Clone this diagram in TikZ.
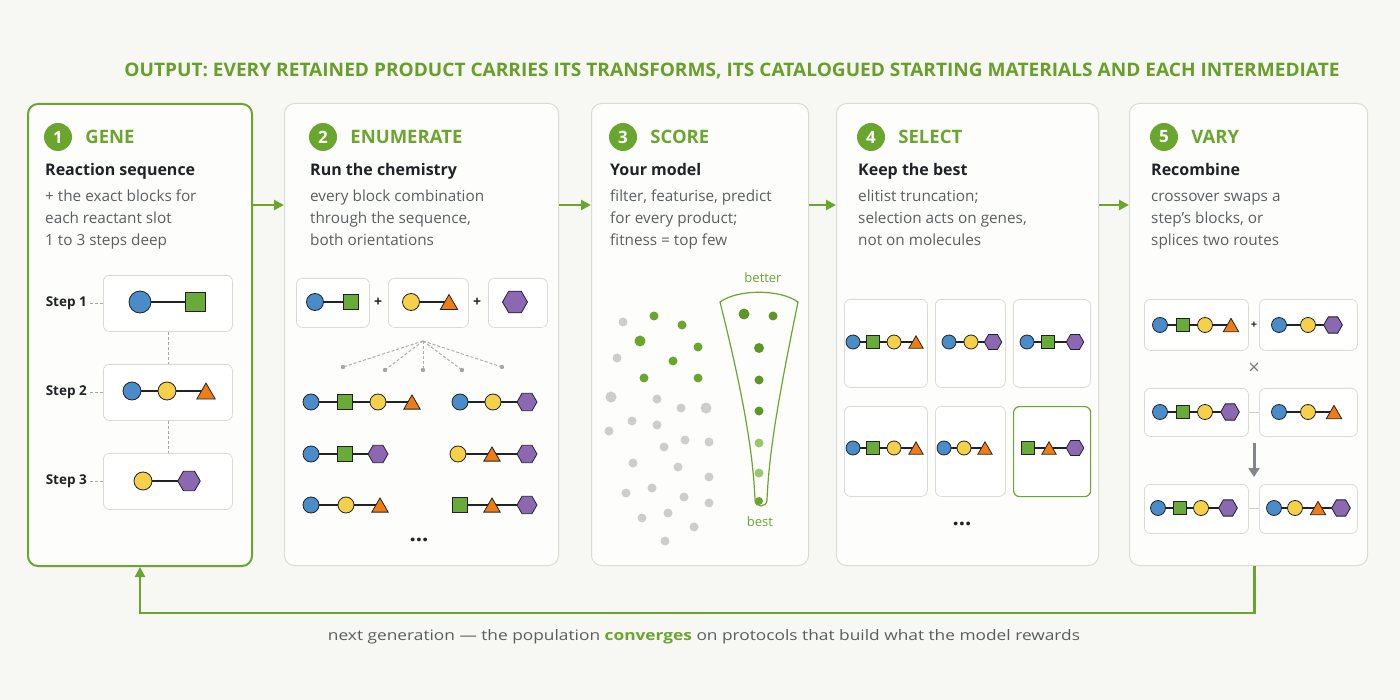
\documentclass[tikz,border=0pt]{standalone}
\usepackage{fontspec}
\usepackage{graphicx}
\setmainfont{Open Sans}
\usetikzlibrary{arrows.meta,positioning,shapes.geometric}
\definecolor{gaBg}{HTML}{F7F8F3}
\definecolor{gaCard}{HTML}{FDFDFB}
\definecolor{gaGreen}{HTML}{6AA62E}
\definecolor{gaTitle}{HTML}{689E2A}
\definecolor{gaInk}{HTML}{1F2326}
\definecolor{gaGrey}{HTML}{5A5E62}
\definecolor{gaEdge}{HTML}{D9DCD2}
\definecolor{gaBlue}{HTML}{4A8CC9}
\definecolor{gaLeaf}{HTML}{6AAA3A}
\definecolor{gaSun}{HTML}{F7D04A}
\definecolor{gaOrange}{HTML}{F07D14}
\definecolor{gaPlum}{HTML}{8C68B3}
\definecolor{gaDot}{HTML}{CDCDCB}
\definecolor{gaPale}{HTML}{9DC56F}

\tikzset{
  panel/.style={draw=gaEdge,fill=gaCard,line width=1pt,rounded corners=10pt,anchor=north west,inner sep=0pt},
  card/.style={draw=gaEdge,fill=white,line width=0.8pt,rounded corners=6pt,anchor=north west,inner sep=0pt},
  badge/.style={circle,fill=gaGreen,text=white,inner sep=0pt,minimum size=28pt,font=\bfseries\fontsize{17}{17}\selectfont},
  stephead/.style={text=gaGreen,inner sep=0pt,font=\bfseries\fontsize{18.5}{18.5}\selectfont},
  lead/.style={anchor=base west,inner sep=0pt,text=gaInk,font=\bfseries\fontsize{16}{16}\selectfont},
  note/.style={anchor=base west,inner sep=0pt,text=gaGrey,font=\fontsize{15.3}{15.3}\selectfont},
  steptag/.style={text=gaInk,inner sep=3pt,font=\bfseries\fontsize{13.5}{13.5}\selectfont},
  tag/.style={text=gaGreen,inner sep=0pt,font=\fontsize{13}{13}\selectfont},
  sign/.style={text=gaInk,inner sep=0pt,font=\bfseries\fontsize{14}{14}\selectfont},
  more/.style={text=gaInk,inner sep=0pt,font=\bfseries\fontsize{22}{22}\selectfont},
  leader/.style={gaGrey!55,densely dashed,line width=0.8pt},
  fanline/.style={gaGrey!50,densely dashed,line width=1pt},
  flow/.style={gaGreen,line width=2.5pt,-{Triangle[length=10pt,width=10pt]}},
  swap/.style={gaGrey!75,line width=3pt,-{Triangle[length=9pt,width=11pt]}},
  bond/.style={gaInk,line width=1.4pt},
  atom/.style={draw=gaInk,line width=0.8pt,inner sep=0pt},
  blueball/.style={atom,circle,fill=gaBlue,minimum size=\msz},
  sunball/.style={atom,circle,fill=gaSun,minimum size=\msz},
  leafblock/.style={atom,rectangle,fill=gaLeaf,minimum size=0.9*\msz},
  orangetri/.style={atom,regular polygon,regular polygon sides=3,fill=gaOrange,minimum size=1.18*\msz,yshift=-0.15*\msz},
  plumhex/.style={atom,regular polygon,regular polygon sides=6,fill=gaPlum,minimum size=1.25*\msz},
}

% one building-block chain: name, y, size, list of x/kind
\newcommand{\mol}[4]{%
  \def\msz{#3}%
  \foreach \mx/\mk [count=\mi, remember=\mi as \mj (initially 0)] in {#4}{
    \coordinate (#1c\mi) at (\mx,#2);
    \ifnum\mj>0 \draw[bond] (#1c\mj) -- (#1c\mi); \fi
  }
  \foreach \mx/\mk [count=\mi] in {#4}{
    \node[\mk] (#1\mi) at (#1c\mi) {};
  }
}

\begin{document}
\begin{tikzpicture}[x=1pt,y=-1pt]
  \fill[gaBg] (0,0) rectangle (1400,700);
  \useasboundingbox (0,0) rectangle (1400,700);

  \node[text=gaTitle,inner sep=0pt] (banner) at (732,71)
    {\resizebox{1215pt}{13.5pt}{\bfseries OUTPUT: EVERY RETAINED PRODUCT CARRIES ITS TRANSFORMS, ITS CATALOGUED STARTING MATERIALS AND EACH INTERMEDIATE}};

  % the five stages
  \node[panel,draw=gaGreen,line width=2pt,minimum width=224pt,minimum height=462pt] (p1) at (27,103) {};
  \node[panel,minimum width=274pt,minimum height=462pt] (p2) at (284,103) {};
  \node[panel,minimum width=217pt,minimum height=462pt] (p3) at (591,103) {};
  \node[panel,minimum width=262pt,minimum height=462pt] (p4) at (836,103) {};
  \node[panel,minimum width=238pt,minimum height=462pt] (p5) at (1129,103) {};

  \coordinate (lane) at (0,205);
  \foreach \a/\b in {1/2,2/3,3/4,4/5}
    \draw[flow] (p\a.east |- lane) -- (p\b.west |- lane);
  \draw[flow] ([xshift=6pt]p5.south) -- ++(0,47) -| (p1.south);

  \foreach \k/\tx/\head/\lead/\na/\nb/\nc in {
    1/45/GENE/{Reaction sequence}/{+ the exact blocks for}/{each reactant slot}/{1 to 3 steps deep},
    2/310/ENUMERATE/{Run the chemistry}/{every block combination}/{through the sequence,}/{both orientations},
    3/610/SCORE/{Your model}/{filter, featurise, predict}/{for every product;}/{fitness = top few},
    4/858/SELECT/{Keep the best}/{elitist truncation;}/{selection acts on genes,}/{not on molecules},
    5/1151/VARY/{Recombine}/{crossover swaps a}/{step’s blocks, or}/{splices two routes}}
  {
    \node[badge] (b\k) at (\tx+13,137) {\k};
    \node[stephead,right=13pt of b\k] (h\k) {\head};
    \node[lead] (l\k) at (\tx,176) {\lead};
    \node[note] (n\k-1) at (\tx,202) {\na};
    \node[note] (n\k-2) at (\tx,224) {\nb};
    \node[note] (n\k-3) at (\tx,246) {\nc};
  }

  % 1 gene
  \node[card,minimum width=129pt,minimum height=56pt] (s1) at (103,275) {};
  \node[card,minimum width=129pt,minimum height=56pt] (s2) at (103,364) {};
  \node[card,minimum width=129pt,minimum height=56pt] (s3) at (103,453) {};
  \foreach \i in {1,2,3}{
    \node[steptag,left=13pt of s\i] (t\i) {Step \i};
    \draw[leader] (t\i) -- (s\i);
  }
  \draw[leader] (s1) -- (s2);
  \draw[leader] (s2) -- (s3);
  \mol{ga}{302}{22pt}{140/blueball,195/leafblock}
  \mol{gb}{391}{18pt}{132/blueball,167/sunball,206/orangetri}
  \mol{gc}{481}{18pt}{143/sunball,189/plumhex}

  % 2 enumerate
  \node[card,minimum width=73pt,minimum height=49pt] (e1) at (296,278) {};
  \node[card,minimum width=80pt,minimum height=49pt] (e2) at (388,278) {};
  \node[card,minimum width=59pt,minimum height=49pt] (e3) at (488,278) {};
  \node[sign] (plusA) at (378,302) {+};
  \node[sign] (plusB) at (477,302) {+};
  \mol{ea}{302}{17pt}{315/blueball,351/leafblock}
  \mol{eb}{302}{17pt}{411/sunball,449/orangetri}
  \mol{ec}{302}{20pt}{515/plumhex}
  \coordinate (fan) at (423,341);
  \foreach \i/\x/\y in {1/343/367,2/385/370,3/423/370,4/462/370,5/502/367}{
    \coordinate (f\i) at (\x,\y);
    \draw[fanline] (fan) -- (f\i);
    \fill[gaGrey!55] (f\i) circle (2.2pt);
  }
  \mol{pa}{402}{16pt}{311/blueball,345/leafblock,378/sunball,412/orangetri}
  \mol{pb}{402}{16pt}{460/blueball,493/sunball,527/plumhex}
  \mol{pc}{454}{16pt}{311/blueball,345/leafblock,378/plumhex}
  \mol{pd}{454}{16pt}{458/sunball,492/orangetri,527/plumhex}
  \mol{pe}{505}{16pt}{311/blueball,346/sunball,380/orangetri}
  \mol{pf}{505}{16pt}{460/leafblock,492/orangetri,527/plumhex}
  \node[more] (moreE) at (419,540) {...};

  % 3 score
  \foreach \x/\y in {654/316,682/325,698/347,673/361,644/378,698/378}
    \fill[gaGreen] (\x,\y) circle (4.5pt);
  \fill[gaGreen] (640,341) circle (5.5pt);
  \foreach \x/\y in {623/322,617/358,657/399,681/408,632/421,657/425,609/431,685/440,
      709/442,664/447,633/463,678/467,709/477,626/493,652/488,684/497,709/503,642/518,
      668/513,694/527,665/541}
    \fill[gaDot] (\x,\y) circle (4.5pt);
  \fill[gaDot] (611,397) circle (5.5pt);
  \fill[gaDot] (706,408) circle (5.5pt);
  \draw[gaGreen,line width=1.2pt] (720,302) .. controls (742,390) and (753,450) .. (755,500)
    .. controls (755,508) and (767,508) .. (767,500)
    .. controls (769,450) and (780,390) .. (798,302)
    .. controls (780,289) and (738,289) .. (720,302) -- cycle;
  \foreach \x/\y/\r in {744/314/5.5,773/316/4.5,759/348/5,759/380/4.5,759/411/4.5}
    \fill[gaGreen!90!black] (\x,\y) circle (\r pt);
  \fill[gaPale] (759,443) circle (4.5pt);
  \fill[gaPale] (759,473) circle (4.5pt);
  \fill[gaGreen] (759,501) circle (4pt);
  \node[tag] (better) at (763,278) {better};
  \node[tag] (best) at (760,522) {best};

  % 4 select
  \node[card,minimum width=83pt,minimum height=88pt] (k1) at (844,299) {};
  \node[card,minimum width=70pt,minimum height=88pt] (k2) at (935,299) {};
  \node[card,minimum width=77pt,minimum height=88pt] (k3) at (1013,299) {};
  \node[card,minimum width=83pt,minimum height=90pt] (k4) at (844,406) {};
  \node[card,minimum width=70pt,minimum height=90pt] (k5) at (935,406) {};
  \node[card,draw=gaGreen,line width=1.2pt,minimum width=77pt,minimum height=90pt] (k6) at (1013,406) {};
  \mol{ka}{342}{14pt}{853/blueball,873/leafblock,894/sunball,916/orangetri}
  \mol{kb}{342}{14pt}{949/blueball,971/sunball,993/plumhex}
  \mol{kc}{342}{14pt}{1027/blueball,1048/leafblock,1075/plumhex}
  \mol{kd}{448}{14pt}{853/blueball,873/leafblock,894/sunball,916/orangetri}
  \mol{ke}{448}{14pt}{944/blueball,964/sunball,985/orangetri}
  \mol{kf}{448}{14pt}{1028/leafblock,1049/orangetri,1075/plumhex}
  \node[more] (moreK) at (962,524) {...};

  % 5 vary
  \node[card,minimum width=104pt,minimum height=51pt] (r1) at (1144,299) {};
  \node[card,minimum width=98pt,minimum height=51pt] (r2) at (1259,299) {};
  \node[card,minimum width=104pt,minimum height=48pt] (r3) at (1144,388) {};
  \node[card,minimum width=98pt,minimum height=48pt] (r4) at (1259,388) {};
  \node[card,minimum width=104pt,minimum height=49pt] (r5) at (1144,484) {};
  \node[card,minimum width=98pt,minimum height=49pt] (r6) at (1259,484) {};
  \node[sign,font=\bfseries\fontsize{11}{11}\selectfont] (plusR) at (1254,325) {+};
  \node[sign,text=gaGrey!80,font=\fontsize{20}{20}\selectfont] (cross) at (1254,369) {×};
  \draw[gaDot,line width=1pt] (r3) -- (r4);
  \draw[gaDot,line width=1pt] (r5) -- (r6);
  \coordinate (swapA) at (1254,443);
  \coordinate (swapB) at (1254,477);
  \draw[swap] (swapA) -- (swapB);
  \mol{ra}{325}{15pt}{1160/blueball,1183/leafblock,1205/sunball,1231/orangetri}
  \mol{rb}{325}{15pt}{1279/blueball,1308/sunball,1333/plumhex}
  \mol{rc}{412}{15pt}{1160/blueball,1183/leafblock,1205/sunball,1230/plumhex}
  \mol{rd}{412}{15pt}{1279/blueball,1308/sunball,1334/orangetri}
  \mol{re}{508}{15pt}{1158/blueball,1180/leafblock,1201/sunball,1228/plumhex}
  \mol{rf}{508}{15pt}{1274/blueball,1295/sunball,1318/orangetri,1341/plumhex}

  \node[text=gaGrey,inner sep=0pt] (loopnote) at (704,637)
    {\resizebox{752pt}{11pt}{next generation — the population \textcolor{gaGreen}{\bfseries converges} on protocols that build what the model rewards}};
\end{tikzpicture}
\end{document}
